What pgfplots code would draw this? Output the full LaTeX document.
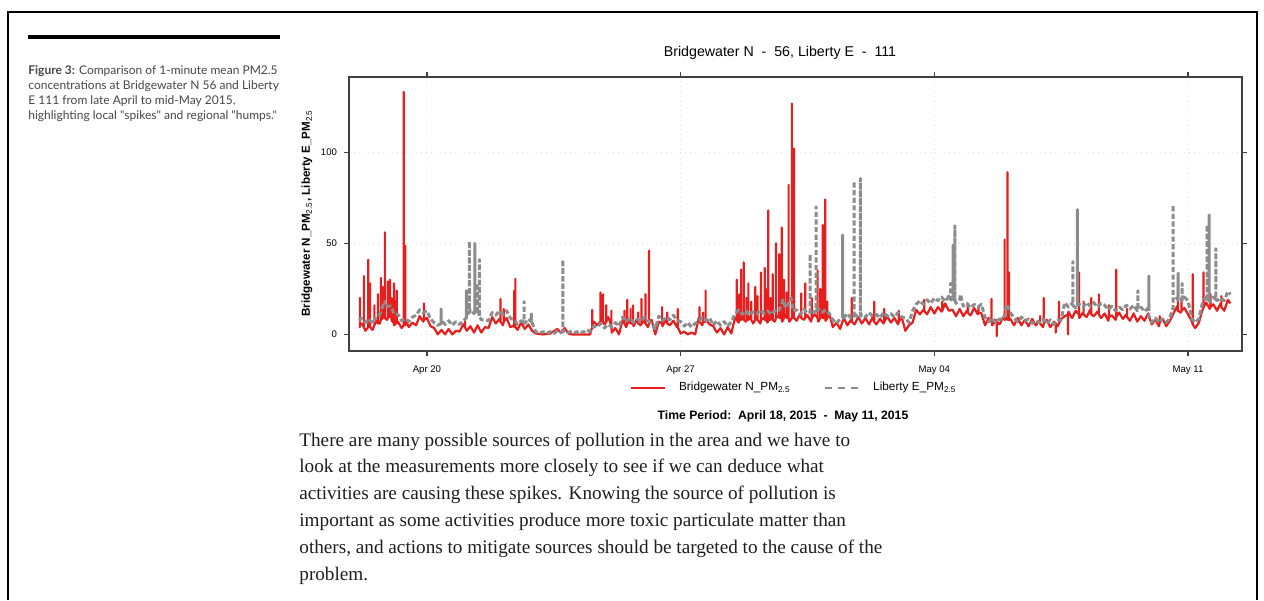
\documentclass[border=0pt]{standalone}
\usepackage{fontspec}
\setmainfont{Liberation Serif}
\newfontfamily\lato{Lato}
\newfontfamily\arial{Liberation Sans}
\usepackage{pgfplots}
\pgfplotsset{compat=1.18}
\definecolor{pmred}{RGB}{232,30,30}
\definecolor{pmgrey}{RGB}{140,140,140}
\definecolor{captxt}{RGB}{70,70,70}
\definecolor{bodytxt}{RGB}{30,30,30}

\begin{document}
\begin{tikzpicture}
% page layer, in pixels of the reference (y downwards)
\begin{scope}[x=0.5pt,y=-0.5pt]
\path[use as bounding box] (0,0) rectangle (1264,600);
\draw[line width=1pt] (8,600) -- (8,12) -- (1257,12) -- (1257,600);
\draw[line width=2pt] (28,37) -- (280,37);

\begin{scope}[every node/.style={anchor=base west, inner sep=0pt,
      font=\lato\fontsize{6}{7}\selectfont, text=captxt}]
\node at (28,74) {\textbf{Figure 3:} Comparison of 1-minute mean PM2.5};
\node at (28,89) {concentrations at Bridgewater N 56 and Liberty};
\node at (28,104) {E 111 from late April to mid-May 2015,};
\node at (28,119) {highlighting local "spikes" and regional "humps."};
\end{scope}

\node[anchor=base, inner sep=0pt, font=\arial\fontsize{7.1}{8}\selectfont] at (780,56)
  {Bridgewater N\ \ -\ \ 56, Liberty E\ \ -\ \ 111};
\node[rotate=90, anchor=center, inner sep=0pt, font=\arial\bfseries\fontsize{5.8}{6}\selectfont] at (307,213)
  {Bridgewater N\_PM\textsubscript{\mdseries 2.5}, Liberty E\_PM\textsubscript{\mdseries 2.5}};
\node[anchor=base, inner sep=0pt, font=\arial\bfseries\fontsize{6.1}{7}\selectfont] at (783,419)
  {Time Period:\ \ April 18, 2015\ \ -\ \ May 11, 2015};

\begin{scope}[every node/.style={anchor=base west, inner sep=0pt,
      font=\fontsize{9.6}{11}\selectfont, text=bodytxt}]
\node at (299,446) {There are many possible sources of pollution in the area and we have to};
\node at (299,472.8) {look at the measurements more closely to see if we can deduce what};
\node at (299,499.6) {activities are causing these spikes. Knowing the source of pollution is};
\node at (299,526.4) {important as some activities produce more toxic particulate matter than};
\node at (299,553.2) {others, and actions to mitigate sources should be targeted to the cause of the};
\node at (299,580) {problem.};
\end{scope}
\end{scope}

% chart: axis box spans x 349..1242 px, y 77..351 px
% x = days after 18 April 2015, 00:00
\begin{axis}[
    at={(174.5pt,-175.5pt)}, anchor=south west,
    scale only axis, width=446.5pt, height=137pt,
    xmin=-0.15, xmax=24.49, ymin=-9.1, ymax=141.2,
    xtick={2,9,16,23}, xticklabels={Apr 20, Apr 27, May 04, May 11},
    ytick={0,50,100},
    tick pos=both, tick align=outside, major tick length=2.5pt,
    xticklabel pos=bottom, yticklabel pos=left,
    tick label style={font=\arial\fontsize{4.8}{5}\selectfont},
    xticklabel style={yshift=-1.5pt},
    /pgf/number format/assume math mode=true,
    axis line style={black!75, line width=0.7pt},
    tick style={black!75, line width=0.6pt},
    grid=major, grid style={black!12, dotted, line width=0.5pt},
    legend style={at={(0.5,-0.135)}, anchor=center, draw=none, fill=none,
        font=\arial\fontsize{5.9}{7}\selectfont, legend columns=2,
        /tikz/every odd column/.append style={column sep=4.5pt},
        /tikz/every even column/.append style={column sep=15pt}},
    legend image code/.code={\draw[#1, line width=0.8pt] (0pt,0pt) -- (17pt,0pt);},
]
\addplot[color=pmred, line width=1.1pt, line join=round] coordinates {
(0.13,4)(0.15,4)(0.15,20)(0.15,5)(0.2,6)(0.26,4)(0.26,32)(0.26,4)(0.3,2)(0.38,4)(0.38,41)(0.38,4)
(0.4,5)(0.43,4)(0.43,28)(0.43,4)(0.5,2.5)(0.55,5)(0.55,16)(0.55,5)(0.6,7.5)(0.65,6)(0.65,22)(0.65,6)
(0.7,6)(0.73,8)(0.73,31)(0.73,8)(0.78,9)(0.78,26)(0.78,9)(0.8,10.5)(0.84,9)(0.84,56)(0.84,9)(0.9,8)
(0.92,9)(0.92,29)(0.92,9)(0.98,10)(0.98,30)(0.98,10)(1.0,11)(1.02,9)(1.02,20)(1.02,8)(1.09,6)(1.09,28)
(1.09,6)(1.1,5)(1.13,6)(1.13,18)(1.13,6)(1.17,6)(1.17,24)(1.17,6)(1.2,7)(1.3,3.5)(1.36,5)(1.36,133)
(1.36,5)(1.4,5)(1.4,48.6)(1.4,5)(1.42,7.5)(1.5,4)(1.6,6.5)(1.7,5)(1.8,10)(1.9,7)(1.92,8)(1.92,17)
(1.92,8)(2.0,9)(2.1,4.5)(2.2,3.5)(2.3,0)(2.4,2.5)(2.5,0)(2.6,3)(2.7,0)(2.8,2)(2.9,1.5)(3.0,5.5)
(3.05,4)(3.05,8)(3.05,4)(3.1,2)(3.2,4.5)(3.3,1)(3.4,5)(3.5,1)(3.6,4)(3.7,3.5)(3.8,9.5)(3.9,6)
(4.0,8.5)(4.03,7)(4.03,19.5)(4.03,7)(4.1,5)(4.12,7)(4.12,14)(4.12,7)(4.2,9)(4.3,4)(4.4,5)(4.41,4)
(4.41,24)(4.41,4)(4.44,4)(4.44,30.5)(4.44,4)(4.5,2.5)(4.6,6.5)(4.7,3)(4.8,5.5)(4.9,2)(5.0,0.5)(5.2,0)
(5.4,0.5)(5.6,3)(5.7,1)(5.8,3.5)(5.9,0.5)(6.0,0)(6.5,0)(6.56,4)(6.56,13.5)(6.56,5)(6.6,7)(6.7,5)
(6.79,7)(6.79,23)(6.79,7)(6.8,8)(6.86,7)(6.86,22)(6.86,7)(6.9,5.5)(6.95,7)(6.95,16)(6.95,7)(7.0,9.5)
(7.09,5)(7.09,13)(7.09,4)(7.1,1)(7.2,3.5)(7.3,0)(7.4,8)(7.45,6)(7.45,13)(7.45,6)(7.5,4)(7.53,6)
(7.53,19)(7.53,6)(7.6,7)(7.62,6)(7.62,14)(7.62,6)(7.69,6)(7.69,16)(7.69,6)(7.7,4.5)(7.8,8.5)(7.83,6)
(7.83,12)(7.83,6)(7.9,5)(7.92,6)(7.92,19.5)(7.92,6)(8.0,7.5)(8.03,6)(8.03,22)(8.03,6)(8.1,4)(8.13,6)
(8.13,46)(8.13,6)(8.2,8)(8.3,0)(8.4,7)(8.49,6)(8.49,15)(8.49,6)(8.5,4.5)(8.6,8.5)(8.63,6)(8.63,12)
(8.63,6)(8.7,5)(8.8,7.5)(8.9,4)(8.92,5)(8.92,14)(8.92,4)(9.0,0.5)(9.1,1.5)(9.2,0)(9.3,1)(9.4,0)
(9.5,9)(9.52,7)(9.52,15)(9.52,7)(9.6,5)(9.62,7)(9.62,12)(9.62,7)(9.69,7)(9.69,24)(9.69,7)(9.7,8)
(9.8,5.5)(9.9,4.5)(10.0,1)(10.1,3.5)(10.2,0)(10.3,4)(10.4,0.5)(10.5,9)(10.55,8)(10.55,30)(10.55,8)(10.6,6.5)
(10.62,8)(10.62,22)(10.62,8)(10.67,8)(10.67,35.6)(10.67,8)(10.7,10.5)(10.74,8)(10.74,39.5)(10.74,8)(10.8,7)(10.82,8)
(10.82,20)(10.82,8)(10.87,8)(10.87,28)(10.87,8)(10.9,9.5)(10.95,8)(10.95,18)(10.95,8)(11.0,6)(11.06,8)(11.06,26)
(11.06,8)(11.1,10)(11.12,8)(11.12,21)(11.12,8)(11.2,6)(11.22,8)(11.22,34)(11.22,8)(11.3,9)(11.32,8)(11.32,36.5)
(11.32,8)(11.35,8)(11.35,25)(11.35,8)(11.4,6.5)(11.42,8)(11.42,68)(11.42,8)(11.48,8)(11.48,20)(11.48,8)(11.5,10.5)
(11.54,8)(11.54,33)(11.54,8)(11.6,7)(11.63,9)(11.63,50)(11.63,9)(11.7,10.5)(11.72,9)(11.72,44)(11.72,9)(11.79,9)
(11.79,58.6)(11.79,9)(11.8,7)(11.85,9)(11.85,30)(11.85,9)(11.9,11)(11.93,9)(11.93,23)(11.93,9)(11.98,9)(11.98,82)
(11.98,9)(12.0,7)(12.07,9)(12.07,126.6)(12.07,9)(12.1,10)(12.13,9)(12.13,102)(12.13,9)(12.2,7.5)(12.3,11.5)(12.33,9)
(12.33,22.5)(12.33,9)(12.4,8)(12.44,9)(12.44,28)(12.44,9)(12.5,10.5)(12.6,7)(12.62,9)(12.62,20)(12.62,9)(12.7,11)
(12.78,9)(12.78,35)(12.78,9)(12.8,7)(12.85,9)(12.85,25)(12.85,9)(12.9,10)(12.92,9)(12.92,60)(12.92,9)(12.99,9)
(12.99,74)(12.99,9)(13.0,7.5)(13.05,9)(13.05,18)(13.05,9)(13.1,11.5)(13.2,4)(13.3,6.5)(13.4,3)(13.5,9)(13.6,5)
(13.7,8)(13.72,7)(13.72,20)(13.72,7)(13.8,5.5)(13.9,9.5)(14.0,6)(14.1,9)(14.2,5.5)(14.3,9.5)(14.34,7)(14.34,18)
(14.34,7)(14.4,5.5)(14.5,8.5)(14.6,6)(14.62,7)(14.62,14)(14.62,7)(14.7,10)(14.8,6.5)(14.9,9)(15.0,5.5)(15.02,7)
(15.02,13)(15.02,7)(15.1,9.5)(15.2,2)(15.3,5)(15.4,6.5)(15.5,13.5)(15.6,11)(15.7,13.5)(15.72,13)(15.72,19)(15.72,13)
(15.8,11)(15.9,15)(16.0,11.5)(16.1,15)(16.2,12.5)(16.22,13)(16.22,18)(16.22,13)(16.3,17)(16.4,13)(16.5,13.5)(16.6,10)
(16.7,14)(16.8,10)(16.9,13)(16.92,12)(16.92,17)(16.92,12)(17.0,10.5)(17.1,14.5)(17.2,11)(17.22,12)(17.22,15)(17.22,12)
(17.3,11.5)(17.4,5)(17.5,9)(17.58,7)(17.58,19.5)(17.58,7)(17.6,5)(17.7,8)(17.72,7)(17.72,-1)(17.72,7)(17.8,5.5)
(17.9,9.5)(17.94,8)(17.94,52)(17.94,8)(18.0,9)(18.02,8)(18.02,89)(18.02,8)(18.06,8)(18.06,34)(18.06,8)(18.1,8.5)
(18.2,5)(18.3,9)(18.4,5)(18.5,8)(18.6,4.5)(18.7,8.5)(18.8,5)(18.9,7.5)(18.92,6)(18.92,10)(18.92,6)(19.0,4)
(19.02,6)(19.02,20)(19.02,6)(19.1,8)(19.2,4)(19.3,7)(19.35,6)(19.35,1)(19.35,6)(19.4,4.5)(19.44,6)(19.44,18)
(19.44,6)(19.5,8.5)(19.6,10)(19.69,11)(19.69,0)(19.69,11)(19.7,12.5)(19.8,9)(19.9,13)(19.99,11)(19.99,34)(19.99,11)
(20.0,9)(20.1,12)(20.12,11)(20.12,18)(20.12,11)(20.2,9.5)(20.3,13.5)(20.33,11)(20.33,20)(20.33,11)(20.4,10)(20.5,12.5)
(20.54,11)(20.54,22)(20.54,11)(20.6,9)(20.7,11.5)(20.8,7.5)(20.82,9.5)(20.82,16)(20.82,9.5)(20.9,10.5)(21.0,8)(21.02,9.5)
(21.02,35.5)(21.02,9.5)(21.1,12)(21.2,8.5)(21.3,11)(21.32,9.5)(21.32,14)(21.32,9.5)(21.4,7.5)(21.5,11.5)(21.6,7)(21.7,10)
(21.8,7.5)(21.9,11.5)(22.0,5.5)(22.1,8)(22.2,4.5)(22.22,6.5)(22.22,10)(22.22,6.5)(22.3,8.5)(22.4,4.5)(22.5,7.5)(22.6,11.5)
(22.7,15.5)(22.72,13)(22.72,28)(22.72,13)(22.8,12)(22.82,13)(22.82,20)(22.82,13)(22.9,14.5)(23.0,11)(23.1,7.5)(23.13,5.5)
(23.13,33)(23.13,5.5)(23.2,3.5)(23.3,6.5)(23.4,13.5)(23.43,15)(23.43,34)(23.43,15)(23.5,17.5)(23.6,14)(23.62,15)(23.62,22)
(23.62,15)(23.7,16.5)(23.8,13)(23.9,17)(23.92,15)(23.92,21)(23.92,15)(24.0,13)(24.1,19)(24.17,17)
};
\addlegendentry{Bridgewater N\_PM\textsubscript{2.5}}

\addplot[color=pmgrey, line width=1.5pt, line join=round, dash pattern=on 2.5pt off 1.3pt,
         legend image post style={dash pattern=on 3.5pt off 2.8pt}] coordinates {
(0.13,7.5)(0.2,9)(0.3,6.5)(0.4,8.5)(0.5,6)(0.6,9.5)(0.7,11)(0.8,16.5)(0.84,16)(0.84,18)(0.84,16)(0.9,15.5)
(1.0,15.5)(1.1,11)(1.2,11)(1.3,7.5)(1.4,8.5)(1.5,7)(1.6,9.5)(1.7,10.5)(1.8,13.5)(1.9,12)(2.0,13)(2.1,8.5)
(2.2,6.5)(2.3,5)(2.39,6)(2.39,14)(2.39,6)(2.4,7.5)(2.5,5.5)(2.6,7.5)(2.7,5)(2.8,7)(2.9,5.5)(3.0,7.5)
(3.09,9)(3.09,24)(3.09,9)(3.1,11)(3.17,12)(3.17,51)(3.17,12)(3.2,13.5)(3.3,11.5)(3.32,12)(3.32,50)(3.32,12)
(3.39,12)(3.39,28)(3.39,12)(3.4,13.5)(3.45,10)(3.45,41)(3.45,10)(3.5,8)(3.6,8)(3.7,7.5)(3.8,12)(3.9,10.5)
(4.0,13)(4.1,11)(4.2,13)(4.3,9)(4.4,8)(4.5,5.5)(4.6,7.5)(4.68,7)(4.68,18)(4.68,7)(4.7,6)(4.8,8.5)
(4.88,7)(4.88,12)(4.88,7)(4.9,6.5)(5.0,1.5)(5.1,0.5)(5.2,1.5)(5.3,0.5)(5.4,1.5)(5.5,0.5)(5.6,2)(5.7,1)
(5.75,1.5)(5.75,41)(5.75,1.5)(5.8,2)(5.9,1)(6.0,2)(6.1,1)(6.2,2)(6.3,1)(6.4,2.5)(6.5,1.5)(6.6,4.5)
(6.7,4)(6.8,6)(6.9,3.5)(7.0,5.5)(7.1,4)(7.2,6.5)(7.3,4.5)(7.4,9.5)(7.5,7)(7.6,9)(7.7,6.5)(7.8,8.5)
(7.9,7)(8.0,9.5)(8.1,7.5)(8.2,6)(8.3,3)(8.4,10)(8.5,7.5)(8.6,9.5)(8.7,8)(8.8,10.5)(8.9,8)(9.0,7)
(9.1,4.5)(9.2,6.5)(9.3,4)(9.4,6)(9.5,7)(9.6,9.5)(9.7,7.5)(9.8,9)(9.9,5)(10.0,7.5)(10.1,5)(10.2,7)
(10.3,4.5)(10.4,7)(10.5,11)(10.6,13.5)(10.7,11)(10.8,13)(10.9,10.5)(11.0,12.5)(11.1,11)(11.2,13.5)(11.3,11.5)(11.4,13)
(11.5,11)(11.6,13)(11.7,12.5)(11.8,17)(11.82,19)(11.9,14.5)(12.0,18)(12.05,20)(12.1,13)(12.2,13.5)(12.3,11)(12.4,14)
(12.5,11.5)(12.57,12)(12.57,44)(12.57,12)(12.6,13)(12.7,12)(12.74,13)(12.74,70)(12.74,13)(12.8,14)(12.9,12)(13.0,13.5)
(13.1,11.5)(13.2,8)(13.3,6)(13.4,8.5)(13.47,9)(13.47,54.5)(13.47,9)(13.5,9)(13.6,11.5)(13.7,9)(13.79,10)(13.79,84)
(13.79,10)(13.8,11.5)(13.9,9)(13.96,10)(13.96,85.5)(13.96,10)(14.0,11)(14.1,9.5)(14.2,12)(14.3,10)(14.4,11)(14.5,9)
(14.6,12)(14.7,10)(14.8,11.5)(14.9,9.5)(15.0,12)(15.1,9.5)(15.2,9)(15.3,6.5)(15.4,13)(15.5,16.5)(15.6,18.5)(15.7,16.5)
(15.8,19)(15.9,17)(16.0,20)(16.1,18.5)(16.2,20.5)(16.3,18)(16.4,21)(16.45,19)(16.45,28)(16.45,19)(16.52,19)(16.52,49)
(16.52,19)(16.57,19)(16.57,59.6)(16.57,19)(16.6,17)(16.7,19.5)(16.72,22)(16.8,15.5)(16.9,17)(17.0,14.5)(17.1,16.5)(17.2,15)
(17.3,16.5)(17.4,9.5)(17.5,7)(17.6,9)(17.7,6.5)(17.8,8.5)(17.9,8)(18.0,16.5)(18.1,12)(18.2,9)(18.3,7)(18.4,9.5)
(18.5,7.5)(18.6,8.5)(18.7,6)(18.8,7.5)(18.9,6.5)(19.0,8.5)(19.1,6)(19.2,8)(19.3,5.5)(19.4,7.5)(19.5,8)(19.6,17.5)
(19.7,15)(19.8,17)(19.82,16)(19.82,40)(19.82,16)(19.9,14.5)(19.95,16)(19.95,68.5)(19.95,16)(20.0,16.5)(20.1,15)(20.2,17.5)
(20.3,15.5)(20.4,17.5)(20.5,15)(20.6,17)(20.7,16)(20.8,13.5)(20.9,15.5)(21.0,13)(21.1,15)(21.2,13.5)(21.3,16)(21.4,14)
(21.5,16)(21.6,13)(21.62,14)(21.62,24)(21.62,14)(21.7,15)(21.8,12.5)(21.9,14.5)(21.92,14)(21.92,32)(21.92,10)(22.0,6.5)
(22.1,9)(22.2,6.5)(22.3,8.5)(22.4,6.5)(22.5,9)(22.59,15)(22.59,71)(22.59,18)(22.6,18.5)(22.7,20)(22.73,19)(22.73,33.6)
(22.73,19)(22.8,18)(22.84,19)(22.84,28)(22.84,19)(22.9,20.5)(23.0,18.5)(23.1,9)(23.2,6.5)(23.3,8.5)(23.4,17.5)(23.5,20.5)
(23.53,19)(23.53,60)(23.53,19)(23.58,19)(23.58,65.5)(23.58,19)(23.6,18)(23.7,20.5)(23.77,19)(23.77,47)(23.77,19)(23.8,18.5)
(23.9,20)(24.0,18.5)(24.1,23.5)(24.17,22)
};
\addlegendentry{Liberty E\_PM\textsubscript{2.5}}
\end{axis}
\end{tikzpicture}
\end{document}
